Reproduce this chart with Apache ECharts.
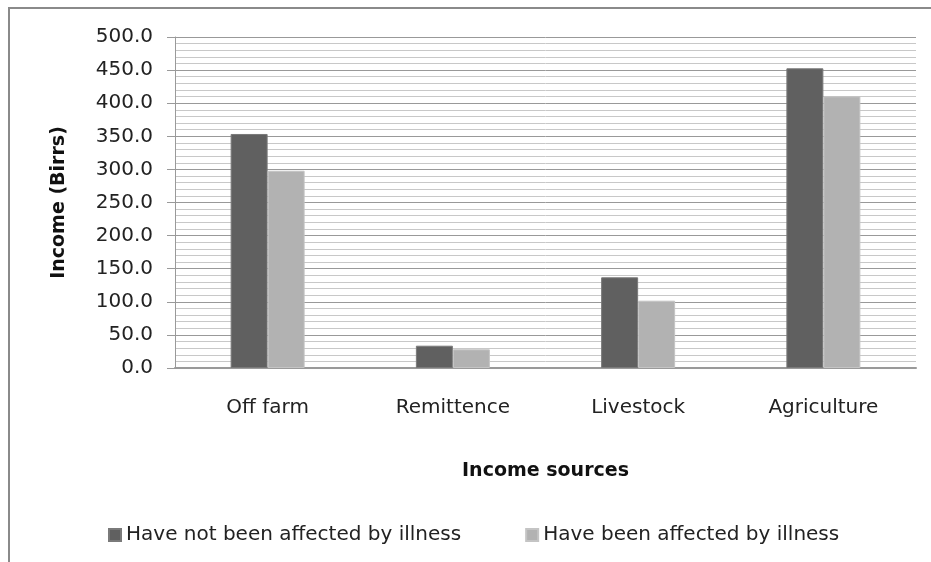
<!DOCTYPE html>
<html>
<head>
<meta charset="utf-8">
<script src="https://cdn.jsdelivr.net/npm/echarts@6/dist/echarts.min.js"></script>
<style>
  html, body { margin: 0; padding: 0; background: #fff; }
  #chart { width: 931px; height: 562px; }
</style>
</head>
<body>
<div id="chart"></div>
<script>
// Mean household income by source (Birrs)
var categories = ['Off farm', 'Remittence', 'Livestock', 'Agriculture'];
var notAffected = [353.5, 33.7, 137.0, 452.7];
var affected = [298.0, 28.2, 101.7, 410.4];
var seriesNames = ['Have not been affected by illness', 'Have been affected by illness'];

var FONT = 'DejaVu Sans';
var chart = echarts.init(document.getElementById('chart'));

chart.setOption({
  animation: false,
  textStyle: { fontFamily: FONT },
  graphic: [{
    type: 'rect',
    shape: { x: 9, y: 8, width: 1000, height: 1000 },
    style: { fill: 'none', stroke: '#8a8a8a', lineWidth: 2 },
    silent: true
  }],
  grid: { left: 175, right: 15, top: 37, bottom: 194 },
  legend: {
    left: 103,
    top: 520,
    itemWidth: 12,
    itemHeight: 12,
    itemGap: 64,
    icon: 'rect',
    textStyle: { fontFamily: FONT, fontSize: 20, color: '#222' },
    data: seriesNames
  },
  xAxis: {
    type: 'category',
    data: categories,
    name: 'Income sources',
    nameLocation: 'middle',
    nameGap: 94,
    nameTextStyle: { fontFamily: FONT, fontSize: 19, fontWeight: 'bold', color: '#111' },
    axisLine: { lineStyle: { color: '#9a9a9a', width: 2 } },
    axisTick: { show: false },
    axisLabel: { fontFamily: FONT, fontSize: 20, color: '#222', margin: 30 }
  },
  yAxis: {
    type: 'value',
    min: 0,
    max: 500,
    interval: 50,
    name: 'Income (Birrs)',
    nameLocation: 'middle',
    nameGap: 106,
    nameTextStyle: { fontFamily: FONT, fontSize: 19, fontWeight: 'bold', color: '#111' },
    axisLine: { show: true, lineStyle: { color: '#9a9a9a', width: 1 } },
    axisTick: { show: true, length: 8, lineStyle: { color: '#9a9a9a' } },
    minorTick: { show: false, splitNumber: 5 },
    minorSplitLine: { show: true, lineStyle: { color: '#c8c8c8', width: 1 } },
    splitLine: { show: true, lineStyle: { color: '#999999', width: 1 } },
    axisLabel: {
      fontFamily: FONT, fontSize: 20, color: '#222', margin: 22,
      formatter: function (v) { return v.toFixed(1); }
    }
  },
  series: [
    {
      name: seriesNames[0],
      type: 'bar',
      data: notAffected,
      barWidth: 37,
      barGap: '0%',
      itemStyle: { color: '#606060', borderColor: '#7a7a7a', borderWidth: 1 }
    },
    {
      name: seriesNames[1],
      type: 'bar',
      data: affected,
      barWidth: 37,
      barGap: '0%',
      itemStyle: { color: '#b2b2b2', borderColor: '#c4c4c4', borderWidth: 1 }
    }
  ]
});
</script>
</body>
</html>
